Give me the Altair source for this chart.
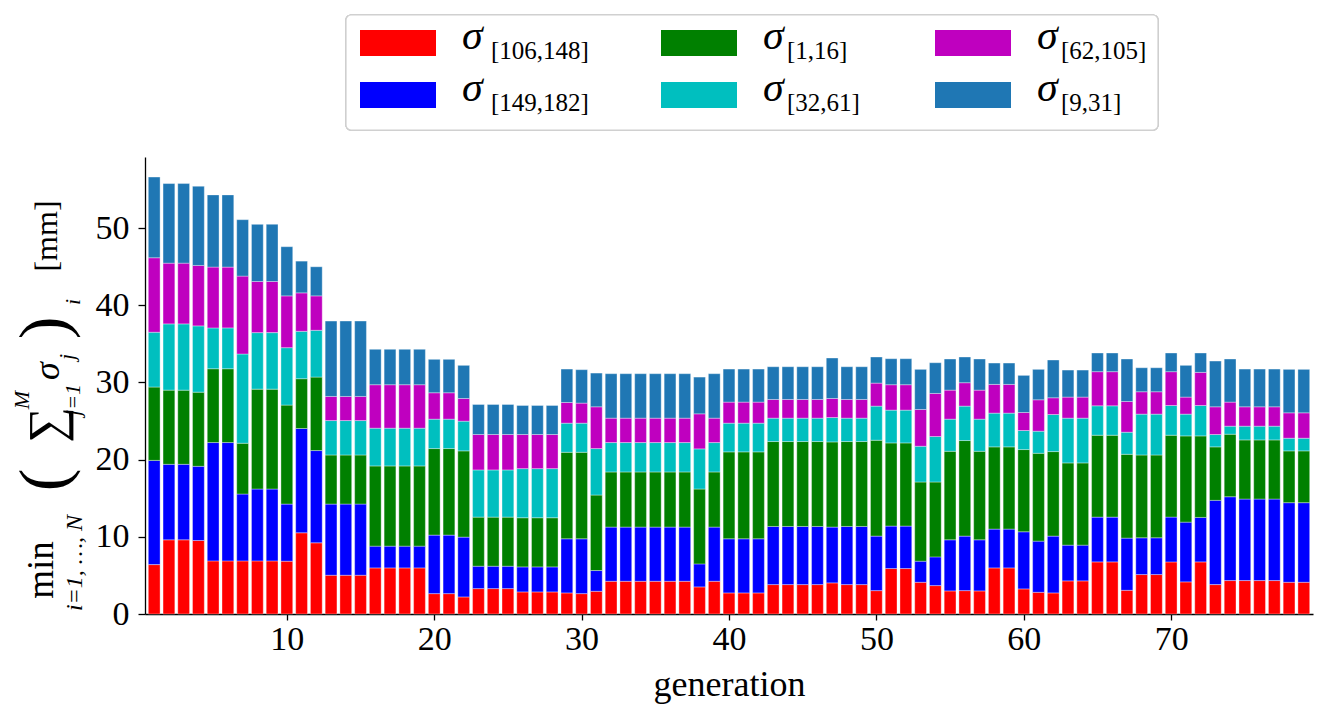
import altair as alt
import pandas as pd

# ---------------- data ----------------
generations = list(range(1, 80))
series_labels = ["[106,148]", "[149,182]", "[1,16]", "[32,61]", "[62,105]", "[9,31]"]
series_colors = ["#ff0000", "#0000ff", "#008000", "#00bfbf", "#bf00bf", "#1f77b4"]

red = [6.4, 9.61, 9.61, 9.52, 6.88, 6.88, 6.88, 6.88, 6.88, 6.84,
       10.52, 9.22, 5.02, 5.02, 5.02, 5.97, 5.97, 5.97, 5.97, 2.64,
       2.64, 2.21, 3.29, 3.29, 3.29, 2.86, 2.86, 2.86, 2.73, 2.64,
       2.94, 4.24, 4.24, 4.24, 4.24, 4.24, 4.24, 3.51, 4.24, 2.73,
       2.73, 2.73, 3.81, 3.81, 3.81, 3.81, 4.03, 3.81, 3.81, 3.03,
       5.89, 5.89, 4.11, 3.68, 2.99, 3.03, 2.99, 5.97, 5.97, 3.25,
       2.81, 2.73, 4.29, 4.29, 6.75, 6.75, 3.07, 5.11, 5.11, 6.75,
       4.16, 6.75, 3.81, 4.33, 4.33, 4.33, 4.33, 4.11, 4.11]
blue = [13.5, 9.78, 9.78, 9.61, 15.33, 15.33, 8.66, 9.31, 9.31, 7.4,
        13.51, 11.95, 9.22, 9.22, 9.22, 2.82, 2.82, 2.82, 2.82, 7.58,
        7.58, 7.75, 2.9, 2.9, 2.9, 3.24, 3.24, 3.24, 7.01, 7.1,
        2.69, 7.02, 7.02, 7.02, 7.02, 7.02, 7.02, 2.98, 7.02, 7.01,
        7.01, 7.01, 7.53, 7.53, 7.53, 7.53, 7.23, 7.53, 7.53, 7.06,
        5.5, 5.5, 2.73, 3.72, 6.62, 7.06, 6.62, 5.03, 5.03, 7.4,
        6.63, 7.36, 4.63, 4.63, 5.8, 5.8, 6.76, 4.76, 4.76, 5.8,
        7.74, 5.76, 10.91, 10.86, 10.56, 10.56, 10.56, 10.31, 10.31]
green = [9.5, 9.61, 9.61, 9.61, 9.56, 9.56, 6.58, 12.94, 12.94, 12.82,
         6.45, 9.52, 6.36, 6.36, 6.36, 10.39, 10.39, 10.39, 10.39, 11.21,
         11.21, 11.17, 6.36, 6.36, 6.36, 6.37, 6.37, 6.37, 11.21, 11.21,
         9.78, 7.14, 7.14, 7.14, 7.14, 7.14, 7.14, 9.7, 7.14, 11.26,
         11.26, 11.26, 11.0, 11.0, 11.0, 11.0, 11.03, 11.0, 11.0, 12.42,
         10.77, 10.77, 10.26, 9.7, 11.47, 12.38, 11.47, 10.65, 10.65, 10.65,
         11.38, 10.95, 10.65, 10.65, 10.61, 10.61, 10.86, 10.73, 10.73, 10.61,
         11.17, 10.56, 6.93, 8.1, 7.66, 7.66, 7.66, 6.71, 6.71]
cyan = [7.1, 8.58, 8.58, 8.58, 5.29, 5.29, 11.56, 7.32, 7.32, 7.44,
        6.14, 6.06, 4.46, 4.46, 4.46, 4.89, 4.89, 4.89, 4.89, 3.81,
        3.81, 3.85, 6.11, 6.11, 6.11, 6.36, 6.36, 6.36, 3.77, 3.77,
        6.02, 3.81, 3.81, 3.81, 3.81, 3.81, 3.81, 5.2, 3.81, 3.72,
        3.72, 3.72, 3.03, 3.03, 3.03, 3.03, 3.16, 3.03, 3.03, 4.42,
        4.25, 4.25, 4.63, 5.89, 4.16, 4.46, 4.16, 4.37, 4.37, 2.47,
        2.86, 4.8, 5.8, 5.8, 3.81, 3.81, 2.86, 5.29, 5.29, 3.85,
        2.82, 3.94, 1.6, 1.04, 1.78, 1.78, 1.78, 1.64, 1.64]
magenta = [9.65, 7.87, 7.87, 7.83, 7.88, 7.88, 10.09, 6.62, 6.62, 6.71,
           4.98, 4.46, 3.12, 3.12, 3.12, 5.63, 5.63, 5.63, 5.63, 3.42,
           3.42, 2.94, 4.59, 4.59, 4.59, 4.42, 4.42, 4.42, 2.68, 2.6,
           5.41, 3.16, 3.16, 3.16, 3.16, 3.16, 3.16, 4.54, 3.16, 2.73,
           2.73, 2.73, 2.42, 2.42, 2.42, 2.42, 2.47, 2.42, 2.42, 2.98,
           3.29, 3.29, 4.76, 5.58, 3.76, 3.03, 3.76, 3.72, 3.72, 2.33,
           4.07, 2.17, 2.73, 2.73, 4.42, 4.42, 3.98, 2.9, 2.9, 4.38,
           2.21, 4.29, 3.59, 3.12, 2.51, 2.51, 2.51, 3.29, 3.29]
steel = [10.45, 10.31, 10.31, 10.26, 9.35, 9.35, 7.31, 7.41, 7.41, 6.37,
         4.11, 3.77, 9.77, 9.77, 9.77, 4.59, 4.59, 4.59, 4.59, 4.33,
         4.33, 4.29, 3.89, 3.89, 3.89, 3.76, 3.76, 3.76, 4.33, 4.33,
         4.37, 5.76, 5.76, 5.76, 5.76, 5.76, 5.76, 4.76, 5.76, 4.28,
         4.28, 4.28, 4.24, 4.24, 4.24, 4.24, 5.24, 4.24, 4.24, 3.38,
         3.37, 3.37, 5.2, 3.98, 4.03, 3.33, 4.03, 2.77, 2.77, 4.81,
         3.94, 4.89, 3.5, 3.5, 2.42, 2.42, 5.5, 3.11, 3.11, 2.42,
         4.11, 2.51, 5.93, 5.58, 4.89, 4.89, 4.89, 5.63, 5.63]

x_ticks = [10, 20, 30, 40, 50, 60, 70]
y_ticks = [0, 10, 20, 30, 40, 50]

# ---------------- layout ----------------
FONT = "Liberation Serif"
PL, PT, PR, PB = 145, 157, 22, 106
W, H = 1335 - PL - PR, 720 - PT - PB

values = [red, blue, green, cyan, magenta, steel]
rows = []
for k, (lab, vals) in enumerate(zip(series_labels, values)):
    for g, v in zip(generations, vals):
        rows.append({"gen": g, "series": lab, "order": k, "value": v})
df = pd.DataFrame(rows)

bars = alt.Chart(df).transform_stack(
    stack="value", groupby=["gen"], as_=["y0", "y1"],
    sort=[alt.SortField("order", order="ascending")]
).transform_calculate(
    x0="datum.gen - 0.4", x1="datum.gen + 0.4"
).mark_bar(stroke="white", strokeWidth=0.5, strokeOpacity=0.7).encode(
    x=alt.X("x0:Q", scale=alt.Scale(domain=[0.376, 79.624], nice=False, zero=False),
            axis=alt.Axis(values=x_ticks, title="generation", titleY=81,
                          titleBaseline="alphabetic", labelPadding=2, tickSize=6)),
    x2="x1:Q",
    y=alt.Y("y0:Q", scale=alt.Scale(domain=[0, 59.2], nice=False),
            axis=alt.Axis(values=y_ticks, title=None, labelPadding=9, tickSize=7)),
    y2="y1:Q",
    color=alt.Color("series:N", scale=alt.Scale(domain=series_labels, range=series_colors),
                    legend=None),
)

# legend (drawn manually so that the sigma subscripts are possible)
col_swatch = [360, 661, 935]
col_sigma = [462, 763, 1037]
col_sub = [491, 787, 1061]
row_swatch = [30, 82]
row_sigma = [49, 101]
row_sub = [59, 111]
leg_rows = []
for i, (lab, colr) in enumerate(zip(series_labels, series_colors)):
    c, r = i // 2, i % 2
    leg_rows.append({
        "sx": col_swatch[c] - PL, "sx2": col_swatch[c] + 76 - PL,
        "sy": row_swatch[r] - PT, "sy2": row_swatch[r] + 26 - PT,
        "gx": col_sigma[c] - PL, "gy": row_sigma[r] - PT,
        "bx": col_sub[c] - PL, "by": row_sub[r] - PT,
        "label": lab, "color": colr, "sigma": "σ",
    })
leg = pd.DataFrame(leg_rows)

legend_box = alt.Chart(leg).mark_rect(
    fill="white", stroke="#cfcfcf", strokeWidth=1.2, cornerRadius=5
).encode(x=alt.value(346 - PL), x2=alt.value(1158 - PL),
         y=alt.value(15 - PT), y2=alt.value(130 - PT))

swatches = alt.Chart(leg).mark_rect().encode(
    x=alt.X("sx:Q", scale=None, axis=None), x2="sx2:Q",
    y=alt.Y("sy:Q", scale=None, axis=None), y2="sy2:Q",
    color=alt.Color("color:N", scale=None),
)
sigmas = alt.Chart(leg).mark_text(
    font=FONT, fontStyle="italic", fontSize=42, align="left", baseline="alphabetic", color="black"
).encode(x=alt.X("gx:Q", scale=None, axis=None), y=alt.Y("gy:Q", scale=None, axis=None), text="sigma:N")
subs = alt.Chart(leg).mark_text(
    font=FONT, fontSize=25, align="left", baseline="alphabetic", color="black"
).encode(x=alt.X("bx:Q", scale=None, axis=None), y=alt.Y("by:Q", scale=None, axis=None), text="label:N")

# y-axis title pieces (rotated)
ytitle_plain = pd.DataFrame({
    "t": ["[mm]", "min", "(", "∑", ")"],
    "px": [47, 42, 46, 48, 46],
    "py": [236, 570, 480, 425, 328],
    "fs": [32, 37, 68, 50, 68],
})
ytitle_ital = pd.DataFrame({
    "t": ["i=1, …, N", "M", "j=1", "σ", "j", "i"],
    "px": [75, 22, 73, 48, 67, 73],
    "py": [563, 400, 400, 371, 357, 302],
    "fs": [24, 22, 22, 36, 22, 22],
})
for d in (ytitle_plain, ytitle_ital):
    d["px"] = d["px"] - PL
    d["py"] = d["py"] - PT

yt1 = alt.Chart(ytitle_plain).mark_text(
    font=FONT, angle=270, align="center", baseline="middle", color="black"
).encode(x=alt.X("px:Q", scale=None, axis=None), y=alt.Y("py:Q", scale=None, axis=None),
         text="t:N", size=alt.Size("fs:Q", scale=None, legend=None))
yt2 = alt.Chart(ytitle_ital).mark_text(
    font=FONT, fontStyle="italic", angle=270, align="center", baseline="middle", color="black"
).encode(x=alt.X("px:Q", scale=None, axis=None), y=alt.Y("py:Q", scale=None, axis=None),
         text="t:N", size=alt.Size("fs:Q", scale=None, legend=None))

chart = alt.layer(bars, legend_box, swatches, sigmas, subs, yt1, yt2).resolve_scale(
    x="independent", y="independent", color="independent", size="independent"
).properties(
    width=W, height=H,
    autosize=alt.AutoSizeParams(type="none"),
    padding={"left": PL, "top": PT, "right": PR, "bottom": PB},
).configure_view(stroke=None).configure_axis(
    grid=False, domainColor="black", domainWidth=1.3, tickColor="black", tickWidth=1.3,
    labelFont=FONT, labelFontSize=34, labelColor="black",
    titleFont=FONT, titleFontSize=36, titleFontWeight="normal", titleColor="black",
)

chart.save("out.html", embed_options={"renderer": "svg", "actions": False})
